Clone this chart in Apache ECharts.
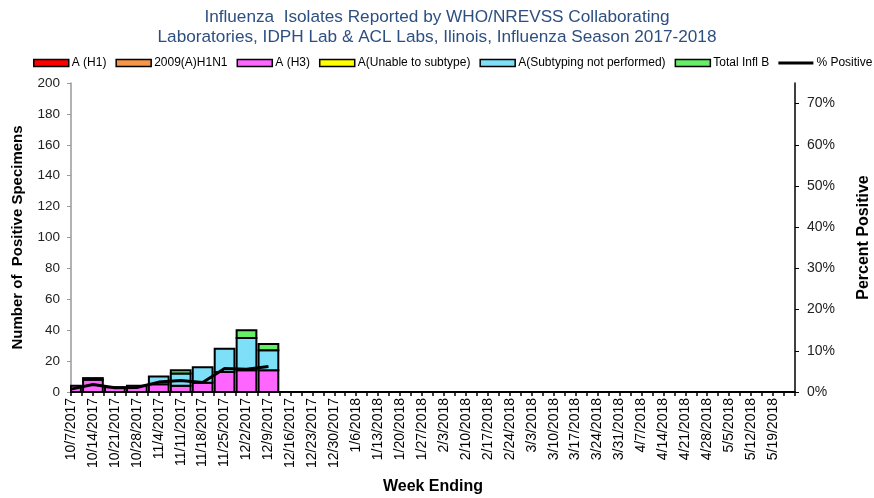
<!DOCTYPE html>
<html>
<head>
<meta charset="utf-8">
<script src="https://cdn.jsdelivr.net/npm/echarts@6/dist/echarts.min.js"></script>
<style>html,body{margin:0;padding:0;background:#fff;}#c{width:874px;height:498px;}</style>
</head>
<body>
<div id="c"></div>
<script>
const weeks = ['10/7/2017','10/14/2017','10/21/2017','10/28/2017','11/4/2017','11/11/2017','11/18/2017','11/25/2017','12/2/2017','12/9/2017','12/16/2017','12/23/2017','12/30/2017','1/6/2018','1/13/2018','1/20/2018','1/27/2018','2/3/2018','2/10/2018','2/17/2018','2/24/2018','3/3/2018','3/10/2018','3/17/2018','3/24/2018','3/31/2018','4/7/2018','4/14/2018','4/21/2018','4/28/2018','5/5/2018','5/12/2018','5/19/2018',''];
const aH1      = [0,0,0,0,0,0,0,0,0,0];
const h1n1     = [0,0,0,0,0,0,0,0,0,0];
const aH3      = [4,8,3,4,5,4,6,13,14,14];
const unable   = [0,1,0,0,0,0,0,0,0,0];
const notSub   = [0,0,0,0,5,8,10,15,21,13];
const inflB    = [0,0,0,0,0,2,0,0,5,4];
const pctPos   = [0.7,1.8,1.05,1.1,2.4,2.8,2.3,5.7,5.5,6.2];
const leftTicks = [0,20,40,60,80,100,120,140,160,180,200];
const rightTicks = [0,10,20,30,40,50,60,70];

const names = ['A (H1)','2009(A)H1N1','A (H3)','A(Unable to subtype)','A(Subtyping not performed)','Total Infl B'];
const colors = ['#ff0000','#f79646','#ff66ff','#ffff00','#7ddff8','#66ee66'];
const vals = [aH1,h1n1,aH3,unable,notSub,inflB];

// stacked [index, base, top] built from the value arrays
const cum = weeks.map(()=>0);
const stacked = vals.map(arr => arr.map((v,j)=>{ const lo = cum[j]; cum[j] += v; return [j, lo, lo+v]; }));

function renderBar(color){
  return function(params, api){
    const lo = api.value(1), hi = api.value(2);
    if (hi <= lo) return null;
    const idx = api.value(0);
    const pLo = api.coord([idx, lo]);
    const pHi = api.coord([idx, hi]);
    const w = api.size([1,0])[0] * 0.9;
    const rect = echarts.graphic.clipRectByRect(
      {x:pLo[0]-w/2, y:pHi[1], width:w, height:pLo[1]-pHi[1]},
      {x:params.coordSys.x, y:params.coordSys.y, width:params.coordSys.width, height:params.coordSys.height}
    );
    if (!rect) return null;
    return {type:'rect', shape:rect, style:{fill:color, stroke:'#000', lineWidth:2}};
  };
}

const barSeries = names.map((n,i)=>({
  name:n, type:'custom', xAxisIndex:0, yAxisIndex:0,
  renderItem: renderBar(colors[i]),
  encode:{x:0, y:[1,2]},
  data: stacked[i],
  itemStyle:{color:colors[i], borderColor:'#000', borderWidth:1.5}
}));

const legendData = names.map((n,i)=>({name:n, icon:'rect', itemStyle:{color:colors[i], borderColor:'#000', borderWidth:1.5}}));
legendData.push({name:'% Positive', icon:'path://M0,0 L34,0 L34,3 L0,3 Z', itemStyle:{color:'#000', borderWidth:0}});

const chart = echarts.init(document.getElementById('c'));
chart.setOption({
  animation:false,
  textStyle:{fontFamily:'Liberation Sans, Arial, sans-serif'},
  title:{
    text:'Influenza  Isolates Reported by WHO/NREVSS Collaborating\nLaboratories, IDPH Lab & ACL Labs, Ilinois, Influenza Season 2017-2018',
    left:'center', top:2,
    textStyle:{color:'#2d4f80', fontSize:17.2, fontWeight:'normal', lineHeight:20}
  },
  legend:{
    left:28, top:52, itemWidth:35, itemHeight:7, itemGap:9, width:860,
    textStyle:{fontSize:12, color:'#000', padding:[0,0,0,-2]},
    data:legendData
  },
  grid:{left:71, right:79, top:83, bottom:106, outerBoundsMode:'none', containLabel:false},
  xAxis:[{
    type:'category', data:weeks, boundaryGap:false,
    axisLine:{lineStyle:{color:'#000', width:2}},
    axisTick:{show:false},
    axisLabel:{rotate:90, interval:0, fontSize:14, color:'#000', margin:6},
    name:'Week Ending', nameLocation:'middle', nameGap:87,
    nameTextStyle:{fontSize:16, fontWeight:'bold', color:'#000'}
  },{
    type:'value', position:'bottom', min:0, max:weeks.length-1, interval:0.5,
    axisLine:{show:false}, axisLabel:{show:false}, splitLine:{show:false},
    axisTick:{show:true, length:4, lineStyle:{color:'#000', width:1.5}}
  }],
  yAxis:[{
    type:'value', min:0, max:200, interval:20, position:'left',
    axisLine:{show:true, lineStyle:{color:'#999', width:1.5}},
    axisTick:{show:true, length:4, lineStyle:{color:'#999'}},
    axisLabel:{fontSize:13.5, color:'#222', margin:11, customValues:leftTicks},
    splitLine:{show:false},
    name:'Number of  Positive Specimens', nameLocation:'middle', nameGap:46, nameRotate:90,
    nameTextStyle:{fontSize:15, fontWeight:'bold', color:'#000'}
  },{
    type:'value', min:0, max:75, position:'right',
    axisLine:{show:true, lineStyle:{color:'#000', width:1.5}},
    axisTick:{show:true, length:4, customValues:rightTicks, lineStyle:{color:'#000'}},
    axisLabel:{fontSize:14, color:'#222', margin:12, customValues:rightTicks, formatter:'{value}%'},
    splitLine:{show:false},
    name:'Percent Positive', nameLocation:'middle', nameGap:61, nameRotate:90,
    nameTextStyle:{fontSize:16, fontWeight:'bold', color:'#000'}
  }],
  series: barSeries.concat([{
    name:'% Positive', type:'line', xAxisIndex:0, yAxisIndex:1, data:pctPos,
    symbol:'none', lineStyle:{color:'#000', width:3}, itemStyle:{color:'#000'}, z:5
  }])
});
</script>
</body>
</html>
